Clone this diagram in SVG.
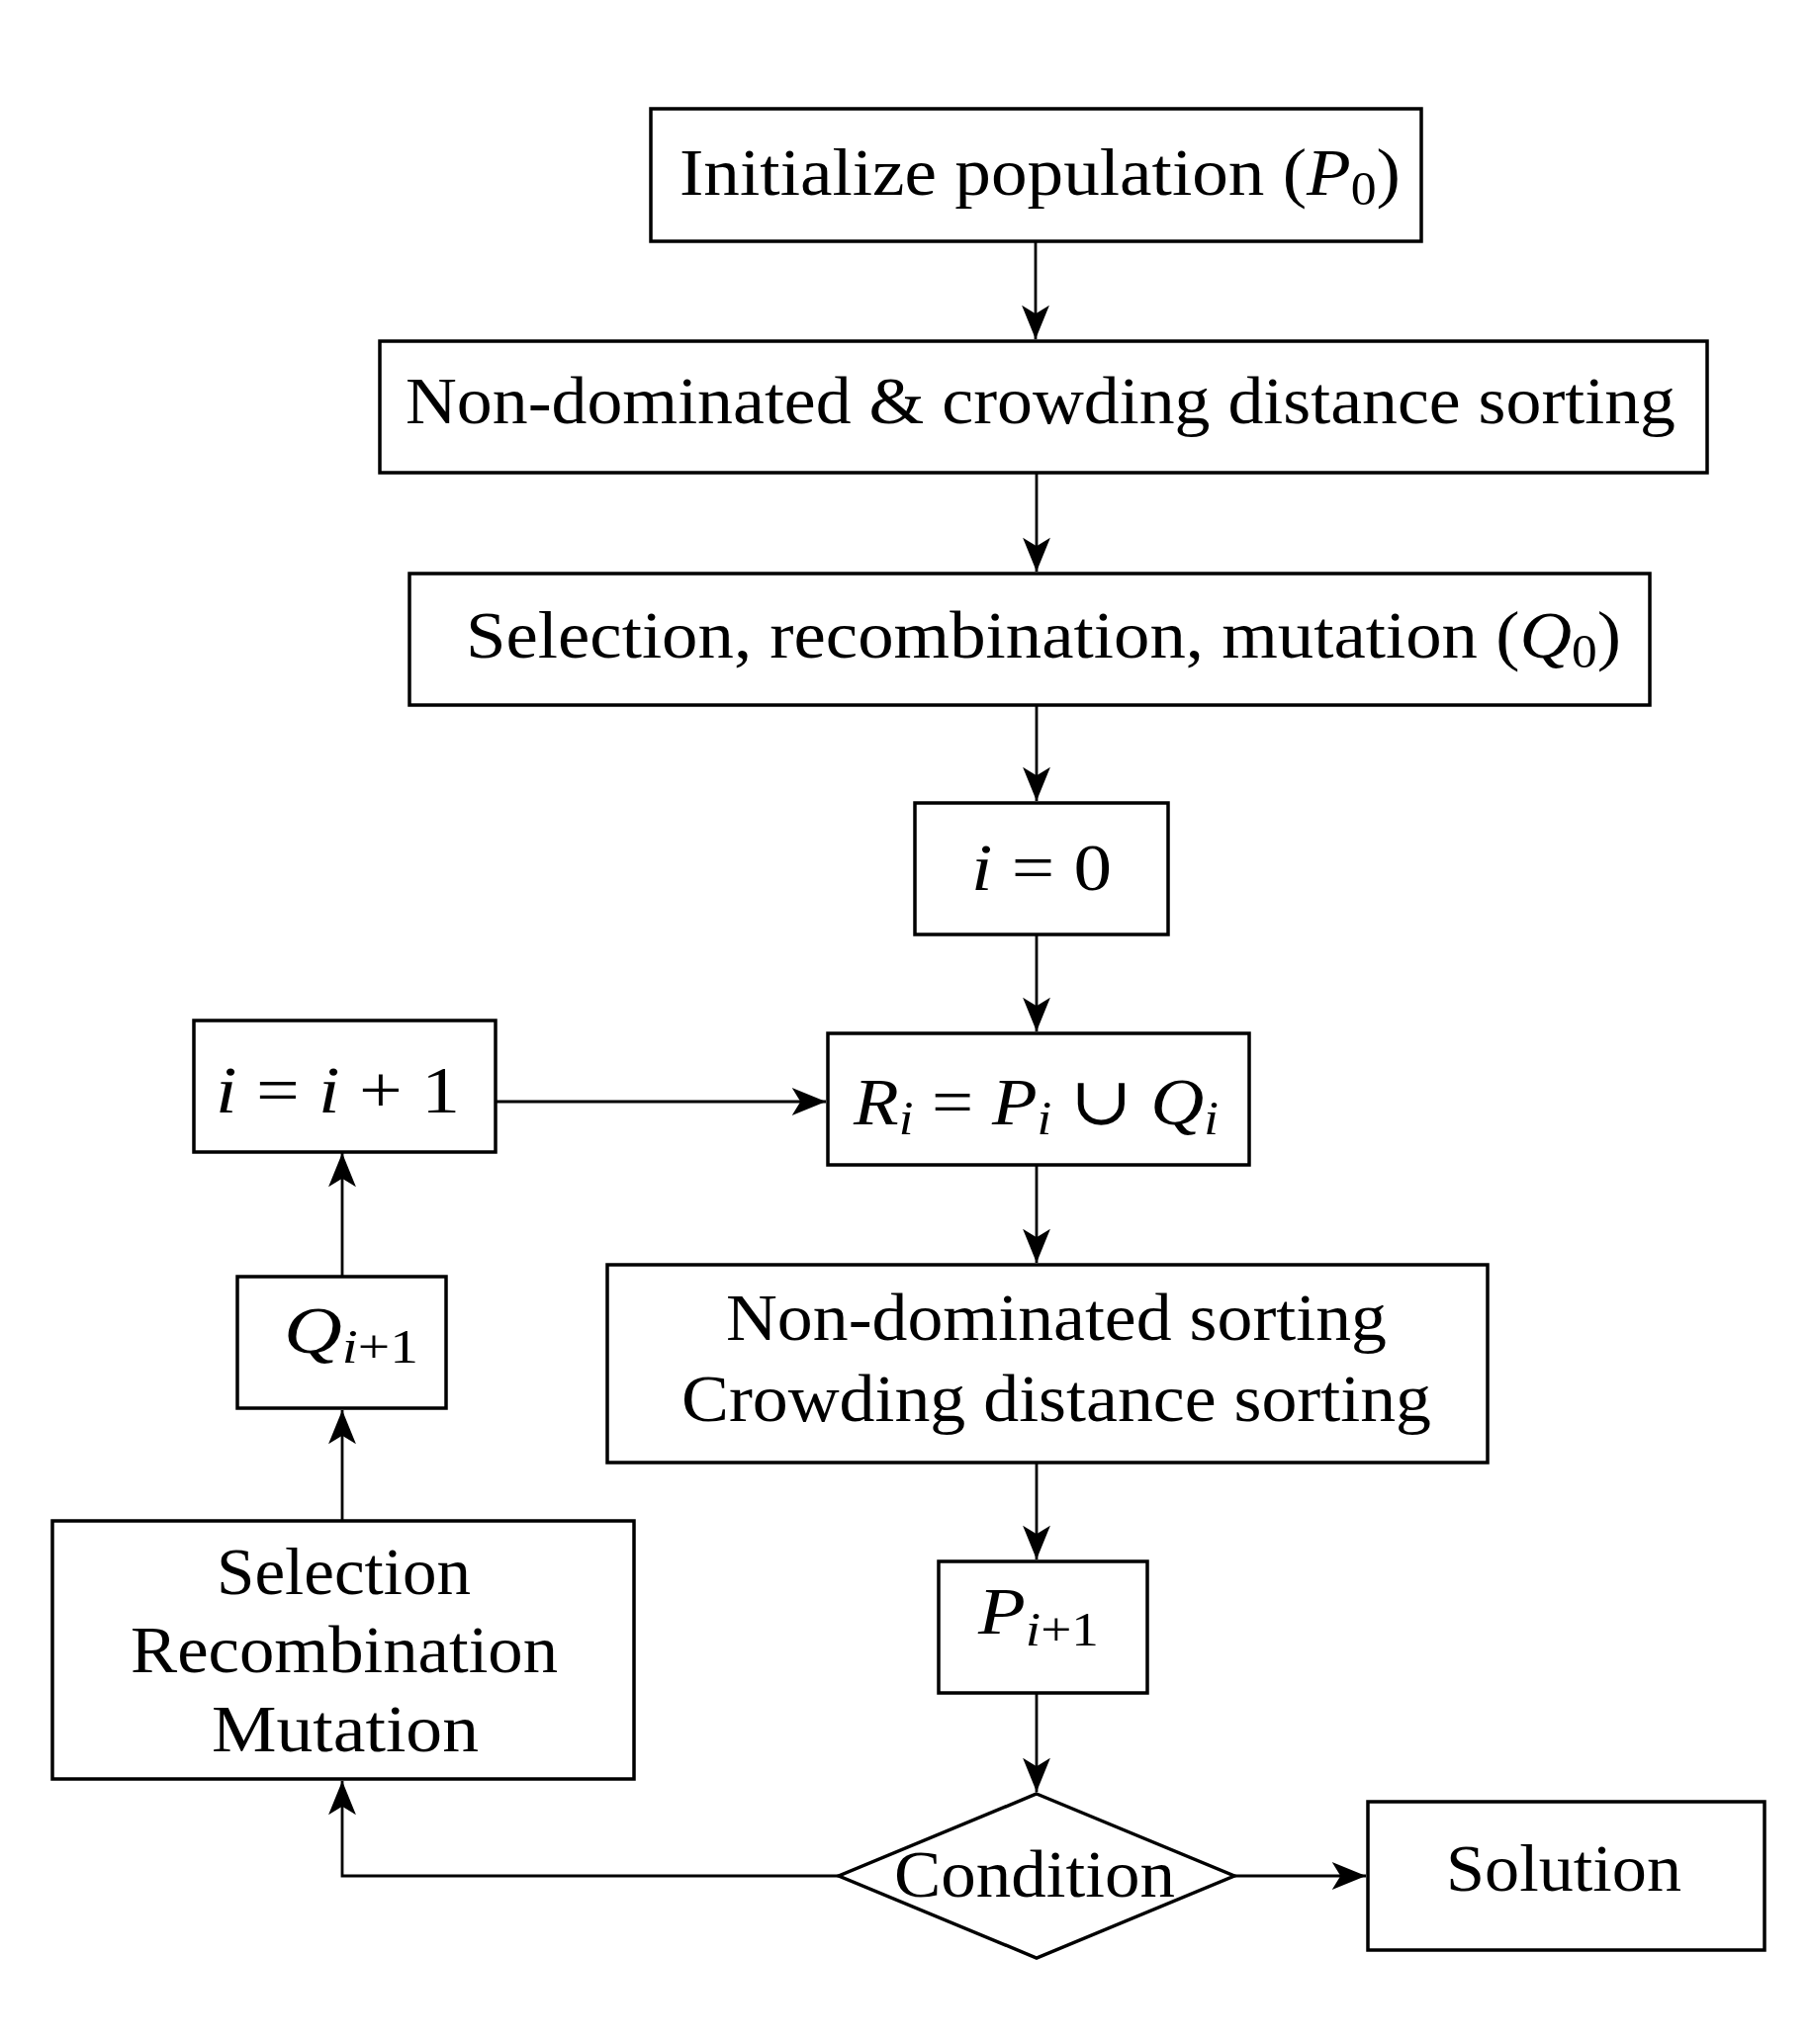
<svg xmlns="http://www.w3.org/2000/svg" width="1831" height="2067" viewBox="0 0 1831 2067">
<style>
.box{fill:#fff;stroke:#000;stroke-width:3.5}
.c{fill:none;stroke:#000;stroke-width:2.8}
text{font-family:"Liberation Serif","DejaVu Serif",serif;font-size:68px;fill:#000}
.it{font-style:italic}
.sub{font-size:48px}
</style>
<defs>
<marker id="ah" markerUnits="userSpaceOnUse" markerWidth="40" markerHeight="30" viewBox="-34 -14 36 28" refX="0" refY="0" orient="auto">
<path d="M0,0 L-32,-13 L-24,0 L-32,13 Z" fill="#000"/>
</marker>
</defs>
<rect width="1831" height="2067" fill="#fff"/>
<g id="connectors">
<line class="c" x1="1047" y1="244" x2="1047" y2="343" marker-end="url(#ah)"/>
<line class="c" x1="1048" y1="478" x2="1048" y2="578" marker-end="url(#ah)"/>
<line class="c" x1="1048" y1="713" x2="1048" y2="810" marker-end="url(#ah)"/>
<line class="c" x1="1048" y1="945" x2="1048" y2="1043" marker-end="url(#ah)"/>
<line class="c" x1="1048" y1="1178" x2="1048" y2="1277" marker-end="url(#ah)"/>
<line class="c" x1="1048" y1="1479" x2="1048" y2="1577" marker-end="url(#ah)"/>
<line class="c" x1="1048" y1="1712" x2="1048" y2="1812" marker-end="url(#ah)"/>
<line class="c" x1="501" y1="1114" x2="835" y2="1114" marker-end="url(#ah)"/>
<line class="c" x1="346" y1="1291" x2="346" y2="1166" marker-end="url(#ah)"/>
<line class="c" x1="346" y1="1537" x2="346" y2="1426" marker-end="url(#ah)"/>
<polyline class="c" points="848,1897 346,1897 346,1801" marker-end="url(#ah)"/>
<line class="c" x1="1248" y1="1897" x2="1381" y2="1897" marker-end="url(#ah)"/>
</g>
<g id="init">
<rect class="box" x="658" y="110" width="779" height="134"/>
<text x="687" y="197" textLength="729" lengthAdjust="spacingAndGlyphs">Initialize population (<tspan class="it">P</tspan><tspan class="sub" dy="10">0</tspan><tspan dy="-10">)</tspan></text>
</g>
<g id="sort0">
<rect class="box" x="384" y="345" width="1342" height="133"/>
<text x="410" y="428" textLength="1284" lengthAdjust="spacingAndGlyphs">Non-dominated &amp; crowding distance sorting</text>
</g>
<g id="sel0">
<rect class="box" x="414" y="580" width="1254" height="133"/>
<text x="471" y="665" textLength="1168" lengthAdjust="spacingAndGlyphs">Selection, recombination, mutation (<tspan class="it">Q</tspan><tspan class="sub" dy="10">0</tspan><tspan dy="-10">)</tspan></text>
</g>
<g id="i0">
<rect class="box" x="925" y="812" width="256" height="133"/>
<text x="982" y="900" textLength="142" lengthAdjust="spacingAndGlyphs"><tspan class="it">i</tspan> = 0</text>
</g>
<g id="ri">
<rect class="box" x="837" y="1045" width="426" height="133"/>
<text x="863" y="1137" textLength="369" lengthAdjust="spacingAndGlyphs"><tspan class="it">R</tspan><tspan class="sub it" dy="10">i</tspan><tspan dy="-10"> = </tspan><tspan class="it">P</tspan><tspan class="sub it" dy="10">i</tspan><tspan dy="-10"> ∪ </tspan><tspan class="it">Q</tspan><tspan class="sub it" dy="10">i</tspan></text>
</g>
<g id="inc">
<rect class="box" x="196" y="1032" width="305" height="133"/>
<text x="218" y="1125" textLength="247" lengthAdjust="spacingAndGlyphs"><tspan class="it">i</tspan> = <tspan class="it">i</tspan> + 1</text>
</g>
<g id="qi1">
<rect class="box" x="240" y="1291" width="211" height="133"/>
<text x="287" y="1368" textLength="136" lengthAdjust="spacingAndGlyphs"><tspan class="it">Q</tspan><tspan class="sub" dy="10"><tspan class="it">i</tspan>+1</tspan></text>
</g>
<g id="sort">
<rect class="box" x="614" y="1279" width="890" height="200"/>
<text x="734" y="1355" textLength="668" lengthAdjust="spacingAndGlyphs">Non-dominated sorting</text>
<text x="689" y="1437" textLength="758" lengthAdjust="spacingAndGlyphs">Crowding distance sorting</text>
</g>
<g id="pi1">
<rect class="box" x="949" y="1579" width="211" height="133"/>
<text x="989" y="1652" textLength="122" lengthAdjust="spacingAndGlyphs"><tspan class="it">P</tspan><tspan class="sub" dy="12"><tspan class="it">i</tspan>+1</tspan></text>
</g>
<g id="selrec">
<rect class="box" x="53" y="1538" width="588" height="261"/>
<text x="219" y="1612" textLength="257" lengthAdjust="spacingAndGlyphs">Selection</text>
<text x="132" y="1691" textLength="432" lengthAdjust="spacingAndGlyphs">Recombination</text>
<text x="214" y="1771" textLength="270" lengthAdjust="spacingAndGlyphs">Mutation</text>
</g>
<g id="cond">
<polygon class="box" points="1048,1814 1248,1897 1048,1980 848,1897"/>
<text x="904" y="1918" textLength="284" lengthAdjust="spacingAndGlyphs">Condition</text>
</g>
<g id="sol">
<rect class="box" x="1383" y="1822" width="401" height="150"/>
<text x="1462" y="1912" textLength="238" lengthAdjust="spacingAndGlyphs">Solution</text>
</g>
</svg>
